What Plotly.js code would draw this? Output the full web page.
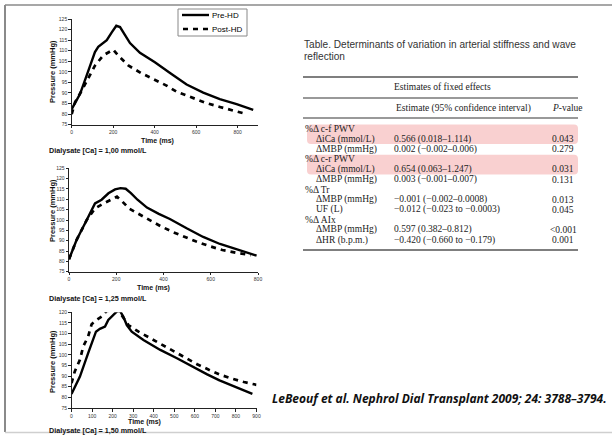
<!DOCTYPE html>
<html>
<head>
<meta charset="utf-8">
<script src="https://cdn.plot.ly/plotly-3.0.1.min.js"></script>
<style>html,body{margin:0;padding:0;background:#fff;}#chart{width:612px;height:436px;}</style>
</head>
<body>
<div id="chart"></div>
<script>
// ---------- DATA ----------
// Panel 1: Dialysate [Ca] = 1,00 mmol/L
const time1Pre  = [0, 40, 80, 112, 128, 144, 169, 193, 215, 233, 257, 281, 329, 401, 474, 554, 634, 714, 795, 875];
const pres1Pre  = [82.4, 89.5, 100.5, 109.4, 111.8, 113, 115, 118.7, 121.8, 121.2, 117.6, 113.6, 109, 104.5, 99.5, 94, 90.2, 87.1, 84.7, 82];
const time1Post = [0, 16, 48, 80, 112, 152, 200, 225, 273, 337, 401, 457, 506, 570, 650, 714, 779, 843];
const pres1Post = [80, 85.6, 91.1, 97.2, 102.9, 107.8, 110.5, 107.6, 103, 99.3, 96.1, 93.5, 90.6, 88.1, 85.2, 83.4, 81.6, 80];
// Panel 2: Dialysate [Ca] = 1,25 mmol/L
const time2Pre  = [0, 32, 75, 110, 138, 167, 195, 218, 240, 262, 290, 330, 380, 427, 498, 568, 639, 710, 794];
const pres2Pre  = [81, 90.3, 100, 108, 109.8, 112.9, 114.8, 115.4, 115.1, 113, 109.8, 106, 103, 100.5, 96, 91.8, 88.4, 85.8, 82.8];
const time2Post = [0, 32, 75, 110, 146, 181, 203, 226, 254, 289, 339, 388, 437, 487, 536, 593, 649, 705, 769];
const pres2Post = [81, 90.3, 100, 105.6, 108, 110, 111.3, 108.9, 105.6, 103.3, 100.1, 97, 94.3, 91.9, 89.7, 87.4, 85.5, 84.2, 83];
// Panel 3: Dialysate [Ca] = 1,50 mmol/L
const time3Pre  = [0, 41, 81, 106, 119, 138, 163, 179, 204, 223, 236, 252, 269, 293, 350, 432, 513, 594, 660, 720, 800, 880];
const pres3Pre  = [81.6, 89.8, 100.8, 107.8, 110.9, 112.2, 113.3, 116.4, 118.8, 120.6, 120.6, 118, 114, 110.9, 107, 102.3, 98.4, 94, 90.8, 88, 84.8, 81.6];
const time3Post = [0, 16, 41, 57, 81, 98, 122, 147, 171, 200, 230, 277, 326, 383, 440, 497, 554, 611, 668, 725, 782, 839, 900];
const pres3Post = [86.7, 92.2, 97.7, 103.9, 108.6, 114.4, 116.4, 118, 120.6, 121, 120.6, 114, 110.9, 107.8, 104.7, 101.6, 98.4, 95.6, 93, 90.6, 88.8, 87.2, 85.9];

const seriesNames = ['Pre-HD', 'Post-HD'];
const panelLabels = ['Dialysate [Ca] = 1,00 mmol/L', 'Dialysate [Ca] = 1,25 mmol/L', 'Dialysate [Ca] = 1,50 mmol/L'];
const xTicks1 = [0, 200, 400, 600, 800];
const xTicks2 = [0, 200, 400, 600, 800];
const xTicks3 = [0, 100, 200, 300, 400, 500, 600, 700, 800, 900];
const yTicks12 = [75, 80, 85, 90, 95, 100, 105, 110, 115, 120, 125];
const yTicks3 = [75, 80, 85, 90, 95, 100, 105, 110, 115, 120];

// Table
const tableTitle = ['Table. Determinants of variation in arterial stiffness and wave', 'reflection'];
const tableHeader1 = 'Estimates of fixed effects';
const tableHeaderEst = 'Estimate (95% confidence interval)';
const tableHeaderP = '<i>P</i>-value';
const rowIsGroup = [true, false, false, true, false, false, true, false, false, true, false, false];
const rowLabel = ['%Δ c-f PWV', 'ΔiCa (mmol/L)', 'ΔMBP (mmHg)', '%Δ c-r PWV', 'ΔiCa (mmol/L)', 'ΔMBP (mmHg)',
                  '%Δ Tr', 'ΔMBP (mmHg)', 'UF (L)', '%Δ AIx', 'ΔMBP (mmHg)', 'ΔHR (b.p.m.)'];
const rowEstimate = ['', '0.566 (0.018–1.114)', '0.002 (−0.002–0.006)', '', '0.654 (0.063–1.247)', '0.003 (−0.001–0.007)',
                     '', '−0.001 (−0.002–0.0008)', '−0.012 (−0.023 to −0.0003)', '', '0.597 (0.382–0.812)', '−0.420 (−0.660 to −0.179)'];
const rowP = ['', '0.043', '0.279', '', '0.031', '0.131', '', '0.013', '0.045', '', '<0.001', '0.001'];
const highlightedRows = [[0, 1], [3, 4]];
const citation = 'LeBeouf et al. Nephrol Dial Transplant 2009; 24: 3788–3794.';

// ---------- LAYOUT HELPERS ----------
const W = 612, H = 436;
const X = v => v / W;
const Y = v => 1 - v / H;

const solid = {color: '#000', width: 2.4};
const dashed = {color: '#000', width: 2.7, dash: '5px,5px'};

const traces = [
  {x: time1Pre, y: pres1Pre, xaxis: 'x', yaxis: 'y', mode: 'lines', line: solid, name: seriesNames[0]},
  {x: time1Post, y: pres1Post, xaxis: 'x', yaxis: 'y', mode: 'lines', line: dashed, name: seriesNames[1]},
  {x: time2Pre, y: pres2Pre, xaxis: 'x2', yaxis: 'y2', mode: 'lines', line: solid, name: seriesNames[0]},
  {x: time2Post, y: pres2Post, xaxis: 'x2', yaxis: 'y2', mode: 'lines', line: dashed, name: seriesNames[1]},
  {x: time3Pre, y: pres3Pre, xaxis: 'x3', yaxis: 'y3', mode: 'lines', line: solid, name: seriesNames[0]},
  {x: time3Post, y: pres3Post, xaxis: 'x3', yaxis: 'y3', mode: 'lines', line: dashed, name: seriesNames[1]}
].map(t => Object.assign(t, {showlegend: false, hoverinfo: 'skip'}));

const tickFont = {family: 'Arial, Liberation Sans', size: 5, color: '#333'};
function xAx(d0, d1, range, ticks, anchor) {
  return {domain: [X(d0), X(d1)], range: range, tickvals: ticks, anchor: anchor,
    showline: true, linecolor: '#222', linewidth: 1, ticks: 'outside', ticklen: 2.5, tickcolor: '#222',
    tickwidth: 1, tickfont: tickFont, showgrid: false, zeroline: false, fixedrange: true};
}
function yAx(p0, p1, range, ticks, anchor) {
  return {domain: [Y(p1), Y(p0)], range: range, tickvals: ticks, anchor: anchor,
    showline: true, linecolor: '#222', linewidth: 1, ticks: 'outside', ticklen: 2.5, tickcolor: '#222',
    tickwidth: 1, tickfont: tickFont, showgrid: false, zeroline: false, fixedrange: true};
}

const annotations = [];
const shapes = [];
const bold = {family: 'Arial, Liberation Sans', color: '#111'};

function ann(text, x, y, font, extra) {
  annotations.push(Object.assign({text: text, x: X(x), y: Y(y), xref: 'paper', yref: 'paper',
    showarrow: false, font: font, xanchor: 'left', yanchor: 'middle'}, extra || {}));
}

// axis titles & panel labels
const timeTitleX = [157, 153, 144], timeTitleY = [141, 288, 421.5];
const presTitleY = [72, 211, 362];
const labelY = [150, 298, 430];
for (let i = 0; i < 3; i++) {
  ann('<b>Time (ms)</b>', timeTitleX[i], timeTitleY[i], Object.assign({size: 7}, bold), {xanchor: 'center'});
  ann('<b>Pressure (mmHg)</b>', 52, presTitleY[i], Object.assign({size: 7.5}, bold), {xanchor: 'center', textangle: -90});
  ann('<b>' + panelLabels[i] + '</b>', 47, labelY[i], Object.assign({size: 7.2}, bold));
}

// legend (panel 1)
shapes.push({type: 'rect', xref: 'paper', yref: 'paper', x0: X(178), x1: X(247), y0: Y(36), y1: Y(9),
  line: {color: '#888', width: 1}, fillcolor: '#fff'});
shapes.push({type: 'line', xref: 'paper', yref: 'paper', x0: X(182), x1: X(209), y0: Y(15), y1: Y(15), line: solid});
shapes.push({type: 'line', xref: 'paper', yref: 'paper', x0: X(183), x1: X(209), y0: Y(29), y1: Y(29), line: dashed});
ann(seriesNames[0], 210, 15.5, {family: 'Arial, Liberation Sans', size: 8, color: '#000'});
ann(seriesNames[1], 210, 29.5, {family: 'Arial, Liberation Sans', size: 8, color: '#000'});

// table
const sansGray = {family: 'Arial, Liberation Sans', size: 10.1, color: '#333'};
ann(tableTitle[0], 302, 44.5, sansGray);
ann(tableTitle[1], 302, 56, sansGray);
const serif = {family: 'Liberation Serif, Times New Roman, serif', size: 9.5, color: '#222'};
ann(tableHeader1, 442, 87.5, serif, {xanchor: 'center'});
ann(tableHeaderEst, 394, 108, serif);
ann(tableHeaderP, 550, 108, serif);
[77, 98, 118, 250].forEach((yy, k) => {
  shapes.push({type: 'line', xref: 'paper', yref: 'paper', x0: X(303), x1: X(578), y0: Y(yy), y1: Y(yy),
    line: {color: k === 0 || k === 3 ? '#555' : '#777', width: 1.3}});
});
function rowY(i) { return 129 + i * 10.1; }
function roundRect(x0, y0, x1, y1, r) {
  const a = X(x0), b = X(x1), t = Y(y0), u = Y(y1), rx = r / W, ry = r / H;
  return `M ${a + rx},${t} L ${b - rx},${t} Q ${b},${t} ${b},${t - ry} L ${b},${u + ry} Q ${b},${u} ${b - rx},${u} ` +
         `L ${a + rx},${u} Q ${a},${u} ${a},${u + ry} L ${a},${t - ry} Q ${a},${t} ${a + rx},${t} Z`;
}
highlightedRows.forEach(([r0, r1]) => {
  shapes.push({type: 'path', xref: 'paper', yref: 'paper', layer: 'below',
    path: roundRect(307, rowY(r0) - 4.5, 578, rowY(r1) + 5, 4),
    fillcolor: 'rgba(242,150,150,0.45)', line: {width: 0}});
});
for (let i = 0; i < rowLabel.length; i++) {
  const yy = rowY(i);
  ann(rowLabel[i], rowIsGroup[i] ? 303 : 314, yy, serif);
  if (rowEstimate[i]) ann(rowEstimate[i], 392, yy, serif);
  if (rowP[i]) ann(rowP[i].replace('<', '&lt;'), rowP[i].startsWith('<') ? 548 : 550, yy, serif);
}

// citation
ann(citation, 270, 398, {family: 'Open Sans, Lato', size: 12, color: '#111', weight: 700, style: 'italic'});

// slide frame
shapes.push({type: 'line', xref: 'paper', yref: 'paper', x0: X(5), x1: X(612), y0: Y(5), y1: Y(5), line: {color: '#8a8a8a', width: 1.5}});
shapes.push({type: 'line', xref: 'paper', yref: 'paper', x0: X(5), x1: X(5), y0: Y(5), y1: Y(432), line: {color: '#8a8a8a', width: 2}});
shapes.push({type: 'line', xref: 'paper', yref: 'paper', x0: X(5), x1: X(612), y0: Y(432.5), y1: Y(432.5), line: {color: '#cfcfcf', width: 1.5}});

const layout = {
  width: W, height: H, margin: {l: 0, r: 0, t: 0, b: 0},
  paper_bgcolor: '#fff', plot_bgcolor: '#fff', showlegend: false,
  xaxis: xAx(71.7, 258.4, [0, 900], xTicks1, 'y'),
  yaxis: yAx(19, 124.7, [75, 125], yTicks12, 'x'),
  xaxis2: xAx(69, 258, [0, 800], xTicks2, 'y2'),
  yaxis2: yAx(168.3, 271.7, [75, 125], yTicks12, 'x2'),
  xaxis3: xAx(71.5, 256.5, [0, 900], xTicks3, 'y3'),
  yaxis3: yAx(312.3, 408, [75, 120], yTicks3, 'x3'),
  annotations: annotations,
  shapes: shapes
};

Plotly.newPlot('chart', traces, layout, {displayModeBar: false, staticPlot: true});
</script>
</body>
</html>
